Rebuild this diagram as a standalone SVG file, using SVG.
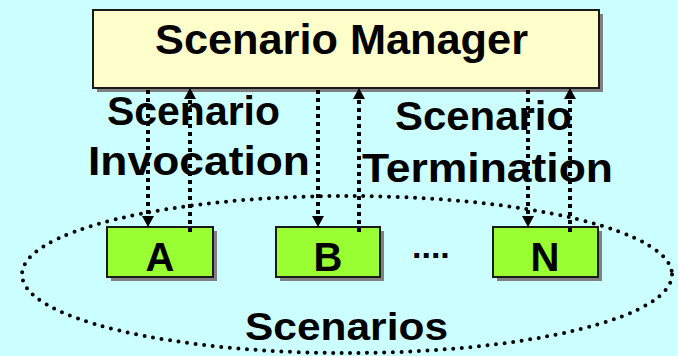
<svg xmlns="http://www.w3.org/2000/svg" width="678" height="356" viewBox="0 0 678 356">
  <defs>
    <style>
      .lbl { font-family: "Liberation Sans", Arial, sans-serif; font-weight: bold; fill: #000; }
      .shadow { fill: #808080; }
      .box { stroke: #1a1a1a; stroke-width: 2; }
      .mgr { fill: #FFFFCC; }
      .scn { fill: #99FF33; }
      .flow { stroke: #000; stroke-width: 4; stroke-dasharray: 4 4; fill: none; }
    </style>
    <marker id="head" viewBox="0 0 11 12" refX="11" refY="6" markerWidth="11" markerHeight="12" markerUnits="userSpaceOnUse" orient="auto">
      <path d="M0,0 L11,6 L0,12 Z" fill="#000"/>
    </marker>
  </defs>

  <rect width="678" height="356" fill="#CCFFFF"/>

  <!-- grouping of all scenarios -->
  <ellipse id="scenarios" cx="347" cy="274.5" rx="325" ry="78.5" fill="none" stroke="#000" stroke-width="4" stroke-linecap="round" stroke-dasharray="0 8.6"/>

  <g id="manager">
    <rect class="shadow" x="97" y="14" width="506" height="78"/>
    <rect class="box mgr" x="93" y="10" width="506" height="78"/>
    <text class="lbl" x="155" y="54" font-size="42" textLength="373" lengthAdjust="spacingAndGlyphs">Scenario Manager</text>
  </g>

  <g id="scenario-a">
    <rect class="shadow" x="111" y="231" width="106" height="50"/>
    <rect class="box scn" x="107" y="227" width="106" height="50"/>
    <text class="lbl" x="160" y="271" font-size="40" text-anchor="middle">A</text>
  </g>

  <g id="scenario-b">
    <rect class="shadow" x="280" y="231" width="104" height="50"/>
    <rect class="box scn" x="276" y="227" width="104" height="50"/>
    <text class="lbl" x="328" y="271" font-size="40" text-anchor="middle">B</text>
  </g>

  <g id="ellipsis">
    <text class="lbl" x="412" y="258" font-size="34">....</text>
  </g>

  <g id="scenario-n">
    <rect class="shadow" x="497" y="231" width="105" height="50"/>
    <rect class="box scn" x="493" y="227" width="105" height="50"/>
    <text class="lbl" x="545" y="271" font-size="40" text-anchor="middle">N</text>
  </g>

  <g id="connectors">
    <!-- invocations: manager down to scenario -->
    <line class="flow" x1="148" y1="90" x2="148" y2="227" marker-end="url(#head)"/>
    <line class="flow" x1="318" y1="90" x2="318" y2="227" marker-end="url(#head)"/>
    <line class="flow" x1="528" y1="90" x2="528" y2="227" marker-end="url(#head)"/>
    <!-- terminations: scenario back up to manager -->
    <line class="flow" x1="190" y1="232" x2="190" y2="88" marker-end="url(#head)"/>
    <line class="flow" x1="359" y1="232" x2="359" y2="88" marker-end="url(#head)"/>
    <line class="flow" x1="570" y1="232" x2="570" y2="88" marker-end="url(#head)"/>
  </g>

  <g id="labels">
    <text class="lbl" x="107" y="125" font-size="40" textLength="173" lengthAdjust="spacingAndGlyphs">Scenario</text>
    <text class="lbl" x="88" y="175" font-size="40" textLength="222" lengthAdjust="spacingAndGlyphs">Invocation</text>
    <text class="lbl" x="395" y="130" font-size="40" textLength="177" lengthAdjust="spacingAndGlyphs">Scenario</text>
    <text class="lbl" x="362" y="182" font-size="40" textLength="251" lengthAdjust="spacingAndGlyphs">Termination</text>
    <text class="lbl" x="245" y="340" font-size="38" textLength="203" lengthAdjust="spacingAndGlyphs">Scenarios</text>
  </g>
</svg>
